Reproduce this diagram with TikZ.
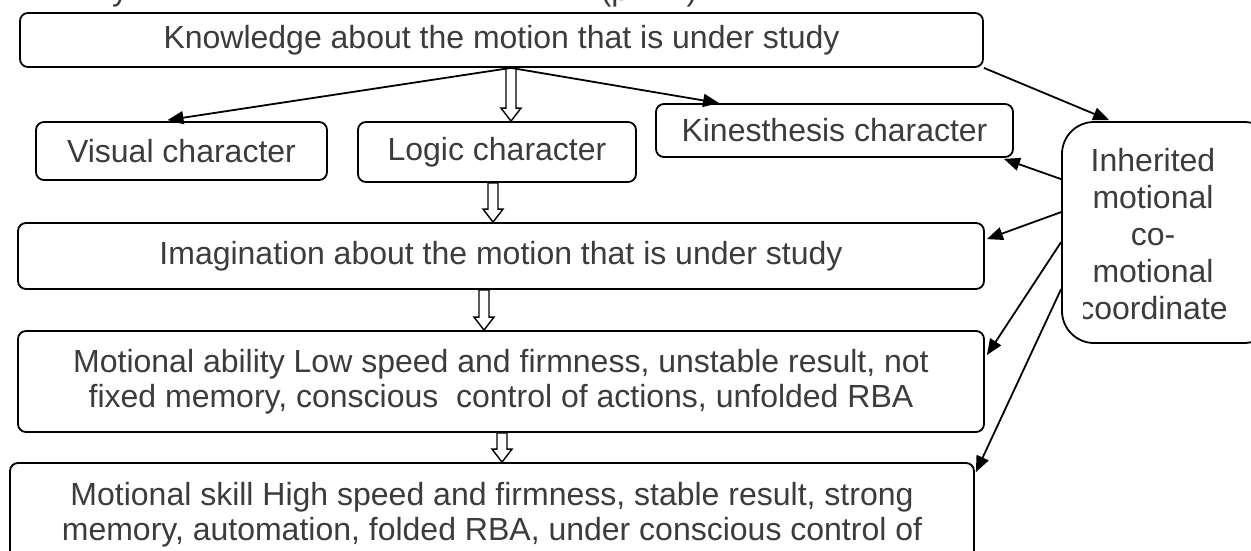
\documentclass[tikz,border=0pt]{standalone}
\usepackage{fontspec}
\setmainfont{Liberation Sans}
\usetikzlibrary{arrows.meta,calc}
\definecolor{txt}{HTML}{3C3C3C}
\tikzset{
  box/.style={draw=black, line width=1.8pt, rounded corners=8pt, text=txt, align=center,
    inner sep=0pt, font=\fontsize{32}{35}\selectfont},
  conn/.style={draw=black, line width=1.8pt, -{Triangle[length=16pt,width=13pt]}},
  hollow/.style={draw=black, line width=1.4pt, fill=white, line join=miter},
  frag/.style={text=txt, inner sep=0pt, anchor=base, font=\fontsize{32}{35}\selectfont},
}
\newcommand{\harrow}[3]{\draw[hollow] let \p1=(#2.south -| #1,0), \p2=(#3.north -| #1,0) in
  (\x1-5pt,\y1) -- (\x1-5pt,\y2+13pt) -- (\x1-10pt,\y2+13pt) -- (\x2,\y2) --
  (\x1+10pt,\y2+13pt) -- (\x1+5pt,\y2+13pt) -- (\x1+5pt,\y1) -- cycle;}
\begin{document}
\begin{tikzpicture}[x=1pt,y=-1pt]
\useasboundingbox (0,0) rectangle (1251,551);
\fill[white] (0,0) rectangle (1251,551);

% fragments of a cut-off line above
\node[frag] (fragA) at (120,1) {y};
\node[frag] (fragB) at (615,1) {(p};
\node[frag] (fragC) at (692,1) {)};

\node[box, minimum width=963pt, minimum height=54pt] (top) at (501.5,40) {Knowledge about the motion that is under study};
\node[box, minimum width=291pt, minimum height=58pt] (visual) at (181.5,151) {Visual character};
\node[box, minimum width=278pt, minimum height=60pt] (logic) at (497,152) {Logic character};
\node[box, minimum width=357pt, minimum height=53pt] (kin) at (834.5,130.5) {Kinesthesis character};
\node[box, minimum width=966pt, minimum height=66pt] (imag) at (501,256) {Imagination about the motion that is under study};
\node[box, minimum width=966pt, minimum height=101pt] (ability) at (501,381.5) {Motional ability Low speed and firmness, unstable result, not\\fixed memory, conscious\ \ control of actions, unfolded RBA};
\node[box, minimum width=964pt, minimum height=104pt] (skill) at (492,515) {Motional skill High speed and firmness, stable result, strong\\memory, automation, folded RBA, under conscious control of};
\node[box, rounded corners=32pt, minimum width=214pt, minimum height=221pt] (inh) at (1169,232.5) {};
\begin{scope}
  \clip (1083,110) rectangle (1260,350);
  \node[text=txt, align=center, inner sep=0pt, font=\fontsize{32}{37}\selectfont] (inhtext) at (1153,234) {Inherited\\motional\\co-\\motional\\coordinate};
\end{scope}

% hollow arrows
\harrow{511}{top}{logic}
\harrow{493}{logic}{imag}
\harrow{484}{imag}{ability}
\harrow{502}{ability}{skill}

% thin arrows
\coordinate (hub) at (top.south -| 511,0);
\draw[conn] (hub) -- ($(visual.north)+(-14,-1)$);
\draw[conn] (hub) -- ($(kin.north west)+(64,0)$);
\draw[conn] (top.south east) -- ($(inh.north west)+(48,-1)$);
\draw[conn] ($(inh.north west)+(0,58)$) -- ($(kin.south east)+(-10,1)$);
\draw[conn] ($(inh.north west)+(0,91)$) -- ($(imag.north east)+(2,17)$);
\draw[conn] ($(inh.north west)+(0,121)$) -- ($(ability.north east)+(2,25)$);
\draw[conn] ($(inh.north west)+(0,168)$) -- ($(skill.north east)+(1,10)$);
\end{tikzpicture}
\end{document}
